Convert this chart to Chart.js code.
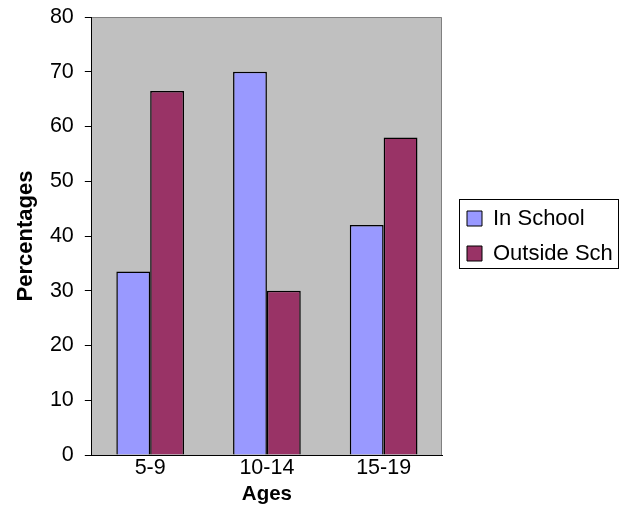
<!DOCTYPE html>
<html>
<head>
<meta charset="utf-8">
<script src="https://cdn.jsdelivr.net/npm/chart.js@4"></script>
<style>
  html, body { margin: 0; padding: 0; background: #ffffff; }
  #wrap { width: 623px; height: 505px; }
</style>
</head>
<body>
<div id="wrap"><canvas id="c" width="623" height="505"></canvas></div>
<script>
const categories = ['5-9', '10-14', '15-19'];
const inSchool = [33.5, 70, 42];
const outsideSch = [66.5, 30, 58];
const seriesNames = ['In School', 'Outside Sch'];
const yMin = 0, yMax = 80, yStep = 10;
const xTitle = 'Ages';
const yTitle = 'Percentages';

const FONT = "'Liberation Sans', Arial, sans-serif";
const LEGEND_WIDTH = 160;

const plotBg = {
  id: 'plotBg',
  beforeDraw(chart) {
    const a = chart.chartArea, ctx = chart.ctx;
    ctx.save();
    ctx.fillStyle = '#C0C0C0';
    ctx.fillRect(a.left, a.top, a.right - a.left, a.bottom - a.top);
    ctx.strokeStyle = '#808080';
    ctx.lineWidth = 1;
    ctx.beginPath();
    ctx.moveTo(a.left, a.top + 0.5);
    ctx.lineTo(a.right - 0.5, a.top + 0.5);
    ctx.lineTo(a.right - 0.5, a.bottom);
    ctx.stroke();
    ctx.restore();
  }
};

const legendWidthFix = {
  id: 'legendWidthFix',
  beforeLayout(chart) {
    const lg = chart.legend;
    if (lg && !lg._widthPatched) {
      const orig = lg.fit;
      lg.fit = function () { orig.call(this); this.width = LEGEND_WIDTH; };
      lg._widthPatched = true;
    }
  }
};

const legendBox = {
  id: 'legendBox',
  afterDraw(chart) {
    const boxes = chart.legend && chart.legend.legendHitBoxes;
    if (!boxes || !boxes.length) return;
    let minX = Infinity, minY = Infinity, maxX = -Infinity, maxY = -Infinity;
    boxes.forEach(b => {
      minX = Math.min(minX, b.left); minY = Math.min(minY, b.top);
      maxX = Math.max(maxX, b.left + b.width); maxY = Math.max(maxY, b.top + b.height);
    });
    const ctx = chart.ctx;
    const x0 = Math.round(minX - 8), y0 = Math.round(minY - 9);
    const x1 = Math.round(maxX + 5), y1 = Math.round(maxY + 3);
    ctx.save();
    ctx.strokeStyle = '#000';
    ctx.lineWidth = 1;
    ctx.strokeRect(x0 + 0.5, y0 + 0.5, x1 - x0, y1 - y0);
    ctx.restore();
  }
};

new Chart(document.getElementById('c'), {
  type: 'bar',
  data: {
    labels: categories,
    datasets: [
      { label: seriesNames[0], data: inSchool, backgroundColor: '#9999FF', borderColor: '#000', borderWidth: 1.5, yAxisID: 'y' },
      { label: seriesNames[1], data: outsideSch, backgroundColor: '#993366', borderColor: '#000', borderWidth: 1.5, yAxisID: 'y' }
    ]
  },
  options: {
    responsive: false,
    animation: false,
    devicePixelRatio: 1,
    layout: { padding: { top: 0, right: 9, left: 12.5, bottom: 0 } },
    datasets: { bar: { categoryPercentage: 0.58, barPercentage: 1.0 } },
    plugins: {
      legend: {
        position: 'right',
        align: 'center',
        fullSize: false,
        labels: {
          color: '#000',
          font: { family: FONT, size: 22 },
          boxWidth: 15,
          boxHeight: 15,
          padding: 13,
          generateLabels(chart) {
            return chart.data.datasets.map((d, i) => ({
              text: d.label, fillStyle: d.backgroundColor, strokeStyle: '#000',
              lineWidth: 1, hidden: false, datasetIndex: i, fontColor: '#000'
            }));
          }
        }
      },
      tooltip: { enabled: false }
    },
    scales: {
      x: {
        grid: { display: true, drawOnChartArea: false, drawTicks: false },
        border: { display: true, color: '#000', width: 1 },
        ticks: { color: '#000', font: { family: FONT, size: 21.5, lineHeight: 1 }, padding: 2 },
        title: { display: true, text: xTitle, color: '#000', font: { family: FONT, size: 20.5, weight: 'bold', lineHeight: 1 }, padding: { top: 4, bottom: 0 } }
      },
      y: {
        min: yMin, max: yMax,
        grid: { display: true, drawOnChartArea: false, drawTicks: true, tickLength: 7, color: '#000' },
        border: { display: true, color: '#000', width: 1 },
        ticks: { stepSize: yStep, color: '#000', font: { family: FONT, size: 21.5, lineHeight: 0.56 }, padding: 11 },
        title: { display: true, text: yTitle, color: '#000', font: { family: FONT, size: 22, weight: 'bold' }, padding: { top: 0, bottom: 0 } }
      },
      yGap: {
        position: 'right',
        display: true,
        min: yMin, max: yMax,
        grid: { display: false },
        border: { display: false },
        ticks: { display: false },
        afterFit(scale) { scale.width = 12; }
      }
    }
  },
  plugins: [plotBg, legendWidthFix, legendBox]
});
</script>
</body>
</html>
